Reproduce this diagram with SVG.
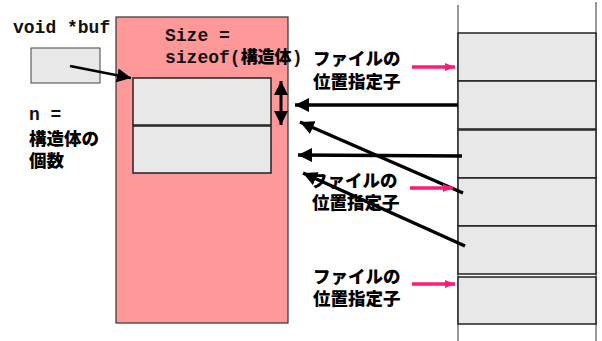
<svg xmlns="http://www.w3.org/2000/svg" width="602" height="341" viewBox="0 0 602 341">
<style>
.mono{font-family:"Liberation Mono","DejaVu Sans Mono",monospace;font-weight:bold;font-size:18px;fill:#111}
.jp{font-family:"Noto Sans CJK JP","Noto Sans",sans-serif;font-weight:900;font-size:17.5px;fill:#000}
.cell{fill:#E8E8E8;stroke:#222;stroke-width:1.5}
.blk{stroke:#000;stroke-width:3.5;fill:none}
.pink{stroke:#FF1A75;stroke-width:3.5;fill:none}
</style>
<defs>
<marker id="ah" markerUnits="userSpaceOnUse" markerWidth="16" markerHeight="14" refX="14" refY="7" orient="auto">
<path d="M0,0 L14,7 L0,14 z" fill="#000"/>
</marker>
<marker id="ahs" markerUnits="userSpaceOnUse" markerWidth="16" markerHeight="14" refX="0" refY="7" orient="auto">
<path d="M14,0 L0,7 L14,14 z" fill="#000"/>
</marker>
<marker id="ap" markerUnits="userSpaceOnUse" markerWidth="12" markerHeight="10" refX="10" refY="5" orient="auto">
<path d="M0,1 L10,5 L0,9 z" fill="#FF1A75"/>
</marker>
</defs>
<rect width="602" height="341" fill="#fff"/>

<g id="buf">
<text class="mono" x="13" y="33">void *buf</text>
<rect x="31" y="48" width="69" height="35" fill="#E8E8E8" stroke="#444" stroke-width="1"/>
</g>

<g id="n-label">
<text class="mono" x="29" y="120">n =</text>
<text class="jp" x="29" y="145">構造体の</text>
<text class="jp" x="29" y="167">個数</text>
</g>

<g id="buffer">
<rect x="116" y="17" width="172" height="306" fill="#FF9999" stroke="#333" stroke-width="1.2"/>
<text class="mono" x="165" y="41">Size =</text>
<text class="mono" x="165" y="63">sizeof(<tspan class="jp" style="font-size:17px">構造体</tspan>)</text>
<rect class="cell" x="133" y="78" width="138" height="47"/>
<rect class="cell" x="133" y="126" width="138" height="47"/>
</g>

<g id="file">
<line x1="458" y1="5" x2="458" y2="341" stroke="#555" stroke-width="1.2"/>
<line x1="596" y1="2" x2="596" y2="341" stroke="#555" stroke-width="1.2"/>
<rect class="cell" x="458" y="33" width="138" height="48"/>
<rect class="cell" x="458" y="81" width="138" height="48"/>
<rect class="cell" x="458" y="130" width="138" height="48"/>
<rect class="cell" x="458" y="178" width="138" height="48"/>
<rect class="cell" x="458" y="226" width="138" height="48"/>
<rect class="cell" x="458" y="277" width="138" height="47"/>
</g>

<g id="labels">
<text class="jp" x="313" y="65">ファイルの</text>
<text class="jp" x="313" y="88">位置指定子</text>
<text class="jp" x="310" y="187">ファイルの</text>
<text class="jp" x="312" y="209">位置指定子</text>
<text class="jp" x="313" y="283">ファイルの</text>
<text class="jp" x="313" y="305">位置指定子</text>
</g>

<g id="connectors">
<line x1="70" y1="66" x2="131" y2="78" stroke="#000" stroke-width="2.5" marker-end="url(#ah)"/>
<line x1="281" y1="81" x2="281" y2="125" stroke="#000" stroke-width="3" marker-start="url(#ahs)" marker-end="url(#ah)"/>
<line class="blk" x1="458" y1="105" x2="295" y2="105" marker-end="url(#ah)"/>
<line class="blk" x1="462" y1="156" x2="298" y2="155" marker-end="url(#ah)"/>
<line class="blk" x1="463" y1="193" x2="300" y2="122" marker-end="url(#ah)"/>
<line class="blk" x1="465" y1="246" x2="303" y2="173" marker-end="url(#ah)"/>
<line class="pink" x1="412" y1="67" x2="455" y2="67" marker-end="url(#ap)"/>
<line class="pink" x1="410" y1="188" x2="453" y2="188" marker-end="url(#ap)"/>
<line class="pink" x1="412" y1="284" x2="455" y2="284" marker-end="url(#ap)"/>
</g>
</svg>
